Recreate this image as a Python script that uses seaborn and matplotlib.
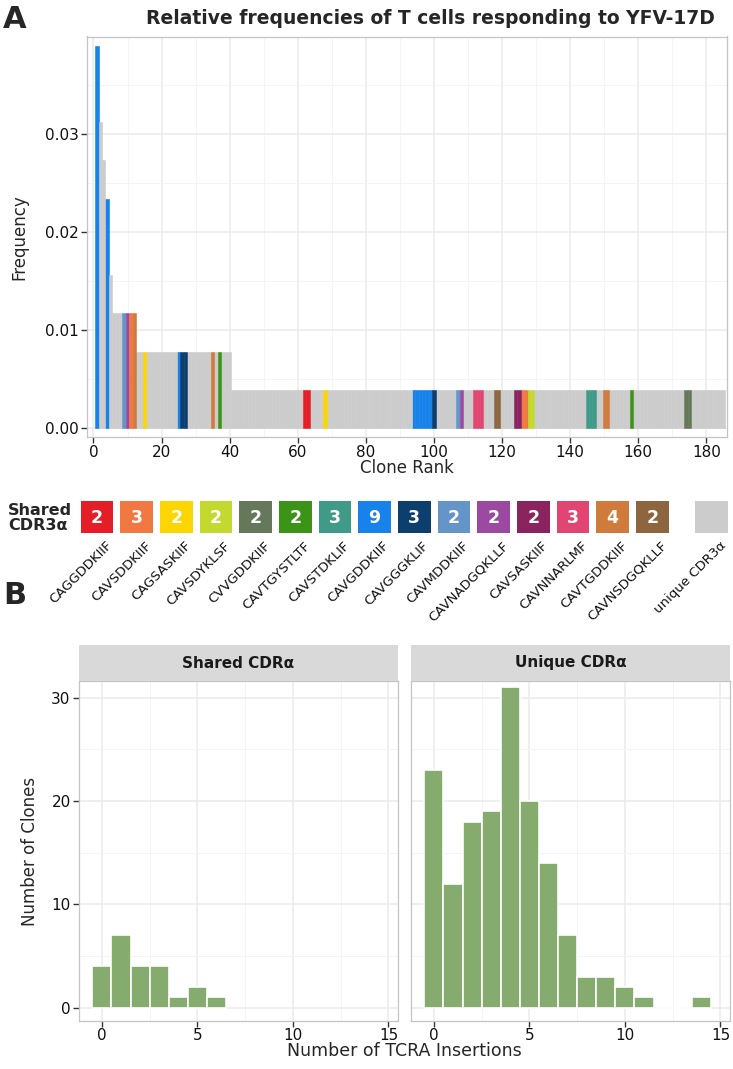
import numpy as np
import pandas as pd
import seaborn as sns
import matplotlib.pyplot as plt
from matplotlib.patches import Rectangle

# ---- panel A data ----
total_cells = 256
# clone-size steps along the rank axis: (last rank of step, cells per clone)
step_last_rank = [1, 2, 3, 4, 5, 12, 40, 185]
step_cells = [10, 8, 7, 6, 4, 3, 2, 1]

shared_names = ['CAGGDDKIIF', 'CAVSDDKIIF', 'CAGSASKIIF', 'CAVSDYKLSF', 'CVVGDDKIIF',
                'CAVTGYSTLTF', 'CAVSTDKLIF', 'CAVGDDKIIF', 'CAVGGGKLIF', 'CAVMDDKIIF',
                'CAVNADGQKLLF', 'CAVSASKIIF', 'CAVNNARLMF', 'CAVTGDDKIIF', 'CAVNSDGQKLLF']
shared_counts = [2, 3, 2, 2, 2, 2, 3, 9, 3, 2, 2, 2, 3, 4, 2]
shared_ranks = [[62, 63], [11, 126, 127], [15, 68], [128, 129], [174, 175],
                [37, 158], [145, 146, 147], [1, 4, 25, 94, 95, 96, 97, 98, 99],
                [26, 27, 100], [9, 107], [10, 108], [124, 125], [112, 113, 114],
                [12, 35, 150, 151], [118, 119]]
shared_colors = ['#E41E26', '#F27842', '#FDD500', '#C3D92F', '#66785A',
                 '#3B9318', '#3F9A88', '#1682EA', '#0C3E6E', '#6494C8',
                 '#9C4AA1', '#8A235E', '#E04671', '#D07B3B', '#8D6640']
unique_label = 'unique CDR3α'
unique_color = '#CCCCCC'

# ---- panel B data ----
shared_ins = [0, 1, 2, 3, 4, 5, 6]
shared_ins_counts = [4, 7, 4, 4, 1, 2, 1]
unique_ins = [0, 1, 2, 3, 4, 5, 6, 7, 8, 9, 10, 11, 14]
unique_ins_counts = [23, 12, 18, 19, 31, 20, 14, 7, 3, 3, 2, 1, 1]

# build per-rank table
ranks, cells = [], []
start = 1
for last, c in zip(step_last_rank, step_cells):
    for r in range(start, last + 1):
        ranks.append(r)
        cells.append(c)
    start = last + 1
rank_group = {}
for name, rl in zip(shared_names, shared_ranks):
    for r in rl:
        rank_group[r] = name
df = pd.DataFrame({'rank': ranks, 'freq': np.array(cells) / total_cells})
df['group'] = [rank_group.get(r, unique_label) for r in df['rank']]
palette = dict(zip(shared_names, shared_colors))
palette[unique_label] = unique_color

sns.set_theme(style='white')
plt.rcParams['font.family'] = ['DejaVu Sans']

W, H = 733, 1069
fig = plt.figure(figsize=(W / 100, H / 100), dpi=100)


def px_axes(x0, y0, x1, y1):
    return fig.add_axes([x0 / W, 1 - y1 / H, (x1 - x0) / W, (y1 - y0) / H])


def style_panel(ax):
    ax.set_axisbelow(True)
    ax.grid(True, which='major', color='#EBEBEB', lw=1.1)
    ax.grid(True, which='minor', color='#F4F4F4', lw=0.7)
    for s in ax.spines.values():
        s.set_color('#C4C4C4')
        s.set_linewidth(0.9)
    ax.tick_params(axis='both', which='major', length=4, width=1, color='#333333',
                   labelsize=11, labelcolor='#111111', pad=2, bottom=True, left=True)
    ax.tick_params(which='minor', length=0)


# ---- panel A ----
ax = px_axes(87, 36.5, 726.5, 437)
sns.barplot(data=df, x='rank', y='freq', hue='group', palette=palette, native_scale=True,
            width=1, dodge=False, errorbar=None, saturation=1, legend=False,
            linewidth=0, ax=ax)
for p in ax.patches:
    p.set_edgecolor(p.get_facecolor())
    p.set_linewidth(0.4)
ax.set_xlim(-1.9, 185.9)
ax.set_ylim(-0.0009, 0.0400)
ax.set_xticks(range(0, 181, 20))
ax.set_xticks(range(10, 181, 20), minor=True)
ax.set_yticks([0, 0.01, 0.02, 0.03])
ax.set_yticks([0.005, 0.015, 0.025, 0.035], minor=True)
ax.set_yticklabels(['0.00', '0.01', '0.02', '0.03'])
style_panel(ax)
ax.set_xlabel('Clone Rank', fontsize=12, labelpad=-1)
ax.set_ylabel('Frequency', fontsize=12, labelpad=12)
fig.text(430 / W, 1 - 19 / H, 'Relative frequencies of T cells responding to YFV-17D',
         ha='center', va='center', fontsize=13.5, fontweight='bold')

# ---- shared CDR3 legend strip ----
lax = fig.add_axes([0, 0, 1, 1], zorder=-1)
lax.set_xlim(0, W)
lax.set_ylim(H, 0)
lax.axis('off')
lax.text(8, 518, 'Shared\nCDR3α', ha='left', va='center', fontsize=11.5,
         fontweight='bold', linespacing=1.05)
sq_w, sq_top, sq_h = 32.7, 501, 32.3
for i, (name, cnt, col) in enumerate(zip(shared_names, shared_counts, shared_colors)):
    x0 = 80.7 + i * 39.66
    lax.add_patch(Rectangle((x0, sq_top), sq_w, sq_h, color=col, lw=0))
    lax.text(x0 + sq_w / 2, sq_top + sq_h / 2 + 1, str(cnt), ha='center', va='center',
             color='white', fontsize=12.5, fontweight='bold')
    lax.text(x0 + sq_w / 2 + 8, 539, name, rotation=45, rotation_mode='anchor',
             ha='right', va='top', fontsize=9.5, color='#111111')
lax.add_patch(Rectangle((695, sq_top), sq_w, sq_h, color=unique_color, lw=0))
lax.text(695 + sq_w / 2 + 8, 539, unique_label, rotation=45, rotation_mode='anchor',
         ha='right', va='top', fontsize=9.5, color='#111111')

fig.text(3 / W, 1 - 20 / H, 'A', ha='left', va='center', fontsize=22, fontweight='black')
fig.text(3 / W, 1 - 596 / H, 'B', ha='left', va='center', fontsize=22, fontweight='black')

# ---- panel B ----
green = '#86AB6E'
facets = [('Shared CDRα', shared_ins, shared_ins_counts, 79),
          ('Unique CDRα', unique_ins, unique_ins_counts, 411)]
for k, (title, xs, cs, left) in enumerate(facets):
    bx = px_axes(left, 681, left + 319, 1021)
    sns.histplot(x=xs, weights=cs, discrete=True, color=green, alpha=1,
                 edgecolor='white', linewidth=1.2, ax=bx)
    bx.set_xlim(-1.2, 15.5)
    bx.set_ylim(-1.3, 31.6)
    bx.set_xticks([0, 5, 10, 15])
    bx.set_xticks([2.5, 7.5, 12.5], minor=True)
    bx.set_yticks([0, 10, 20, 30])
    bx.set_yticks([5, 15, 25], minor=True)
    style_panel(bx)
    bx.tick_params(axis='x', pad=1)
    bx.set_xlabel('')
    if k == 0:
        bx.set_ylabel('Number of Clones', fontsize=12, labelpad=9)
    else:
        bx.set_ylabel('')
        bx.tick_params(axis='y', labelleft=False, length=0)
    sx = px_axes(left, 645, left + 319, 681)
    sx.set_facecolor('#D9D9D9')
    sx.set_xticks([])
    sx.set_yticks([])
    for s in sx.spines.values():
        s.set_visible(False)
    sx.text(0.5, 0.5, title, ha='center', va='center', fontsize=11, fontweight='bold',
            color='#1a1a1a', transform=sx.transAxes)

fig.text(404 / W, 1 - 1051 / H, 'Number of TCRA Insertions', ha='center', va='center',
         fontsize=12.5)

fig.savefig('out.png', dpi=100)
